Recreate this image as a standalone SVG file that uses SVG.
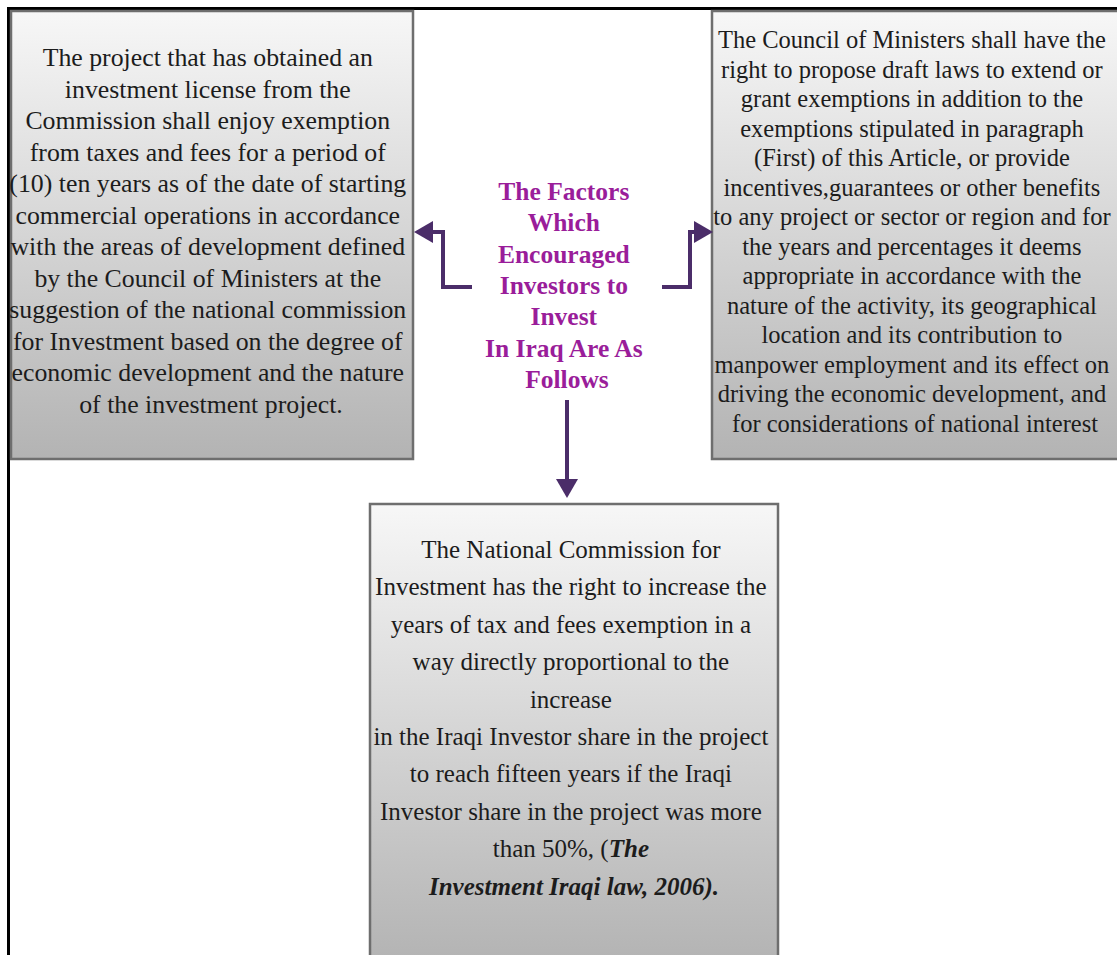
<svg xmlns="http://www.w3.org/2000/svg" width="1117" height="955" viewBox="0 0 1117 955">
<defs>
<linearGradient id="g" x1="0" y1="0" x2="0" y2="1">
<stop offset="0" stop-color="#f7f7f7"/>
<stop offset="1" stop-color="#b3b3b3"/>
</linearGradient>
<marker id="ah" markerUnits="userSpaceOnUse" markerWidth="20" markerHeight="22" refX="8" refY="11" orient="auto" viewBox="0 0 20 22">
<path d="M0,0 L19,11 L0,22 z" fill="#4b2d69"/>
</marker>
<style>
.box{fill:url(#g);stroke:#6e6e6e;stroke-width:2.5}
.t{font-family:"Liberation Serif","Times New Roman",serif;font-size:25px;fill:#1c1c1c;text-anchor:middle}
.l{font-size:25.8px}
.r{font-size:24.5px}
.ti{font-family:"Liberation Serif","Times New Roman",serif;font-size:25.5px;font-weight:bold;fill:#9a1d9a;text-anchor:middle}
.bi{font-weight:bold;font-style:italic}
.c{fill:none;stroke:#4b2d69;stroke-width:4;marker-end:url(#ah)}
</style>
</defs>
<rect width="1117" height="955" fill="#ffffff"/>
<path d="M8.5,955 V8.5 H1117" fill="none" stroke="#000" stroke-width="3"/>

<g id="left-box">
<rect class="box" x="11" y="11" width="402" height="448"/>
<text class="t l">
<tspan x="211" y="66">The project that has obtained an</tspan>
<tspan x="211" y="97.5">investment license from the</tspan>
<tspan x="211" y="129">Commission shall enjoy exemption</tspan>
<tspan x="211" y="160.5">from taxes and fees for a period of</tspan>
<tspan x="211" y="192">(10) ten years as of the date of starting</tspan>
<tspan x="211" y="223.5">commercial operations in accordance</tspan>
<tspan x="211" y="255">with the areas of development defined</tspan>
<tspan x="211" y="286.5">by the Council of Ministers at the</tspan>
<tspan x="211" y="318">suggestion of the national commission</tspan>
<tspan x="211" y="349.5">for Investment based on the degree of</tspan>
<tspan x="211" y="381">economic development and the nature</tspan>
<tspan x="211" y="412.5">of the investment project.</tspan>
</text>
</g>

<g id="right-box">
<rect class="box" x="712" y="11" width="410" height="448"/>
<text class="t r">
<tspan x="915" y="48">The Council of Ministers shall have the</tspan>
<tspan x="915" y="77.5">right to propose draft laws to extend or</tspan>
<tspan x="915" y="107">grant exemptions in addition to the</tspan>
<tspan x="915" y="136.5">exemptions stipulated in paragraph</tspan>
<tspan x="915" y="166">(First) of this Article, or provide</tspan>
<tspan x="915" y="195.5">incentives,guarantees or other benefits</tspan>
<tspan x="915" y="225">to any project or sector or region and for</tspan>
<tspan x="915" y="254.5">the years and percentages it deems</tspan>
<tspan x="915" y="284">appropriate in accordance with the</tspan>
<tspan x="915" y="313.5">nature of the activity, its geographical</tspan>
<tspan x="915" y="343">location and its contribution to</tspan>
<tspan x="915" y="372.5">manpower employment and its effect on</tspan>
<tspan x="915" y="402">driving the economic development, and</tspan>
<tspan x="915" y="431.5">for considerations of national interest</tspan>
</text>
</g>

<g id="bottom-box">
<rect class="box" x="370" y="504" width="408" height="460"/>
<text class="t">
<tspan x="574" y="558">The National Commission for</tspan>
<tspan x="574" y="595.4">Investment has the right to increase the</tspan>
<tspan x="574" y="632.8">years of tax and fees exemption in a</tspan>
<tspan x="574" y="670.2">way directly proportional to the</tspan>
<tspan x="574" y="707.6">increase</tspan>
<tspan x="574" y="745">in the Iraqi Investor share in the project</tspan>
<tspan x="574" y="782.4">to reach fifteen years if the Iraqi</tspan>
<tspan x="574" y="819.8">Investor share in the project was more</tspan>
<tspan x="574" y="857.2">than 50%, (<tspan class="bi">The</tspan></tspan>
<tspan x="574" y="894.6" class="bi">Investment Iraqi law, 2006).</tspan>
</text>
</g>

<g id="title">
<text class="ti">
<tspan x="567" y="200">The Factors</tspan>
<tspan x="567" y="231.3">Which</tspan>
<tspan x="567" y="262.6">Encouraged</tspan>
<tspan x="567" y="293.9">Investors to</tspan>
<tspan x="567" y="325.2">Invest</tspan>
<tspan x="567" y="356.5">In Iraq Are As</tspan>
<tspan x="567" y="387.8">Follows</tspan>
</text>
</g>

<g id="connectors">
<path class="c" d="M472,287 H443 V232 H425"/>
<path class="c" d="M662,287 H690 V232 H702"/>
<path class="c" d="M567,400 V487"/>
</g>
</svg>
